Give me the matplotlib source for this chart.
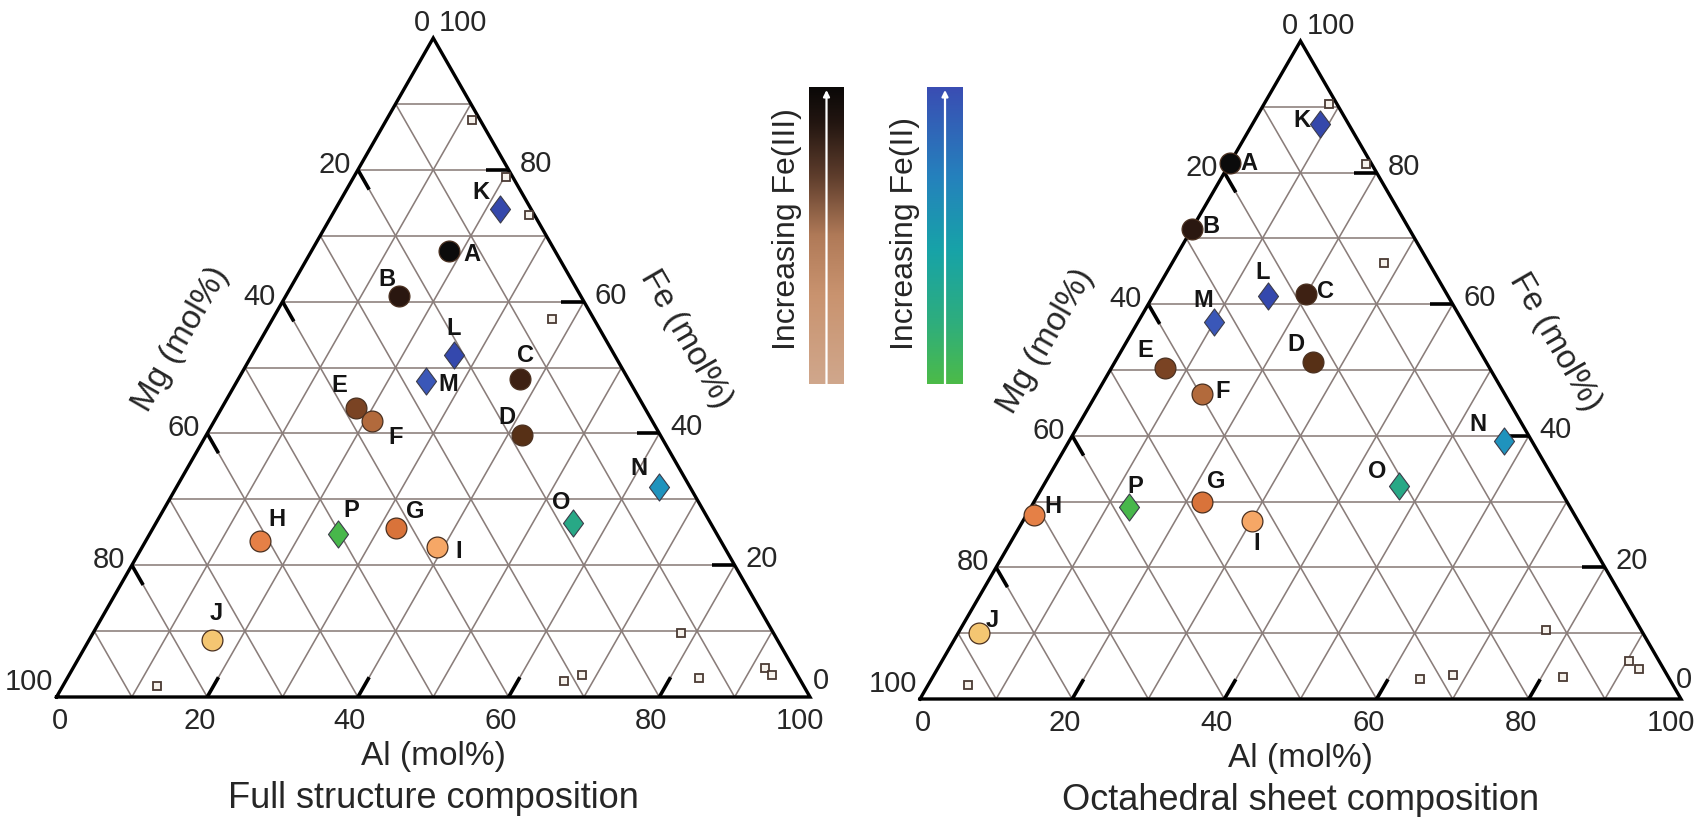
import numpy as np
import matplotlib
matplotlib.use("Agg")
import matplotlib.pyplot as plt
from matplotlib.colors import LinearSegmentedColormap
from matplotlib.path import Path

plt.rcParams['font.family'] = ['Liberation Sans', 'DejaVu Sans']

# ---------------- data (mol%) ----------------
labels = ['A', 'B', 'C', 'D', 'E', 'F', 'G', 'H', 'I', 'J', 'K', 'L', 'M', 'N', 'O', 'P']
# Full structure composition
full_al = [18.2, 15.0, 37.4, 41.9, 17.8, 20.9, 32.2, 15.1, 39.1, 16.3, 21.9, 26.8, 25.1, 64.1, 55.4, 25.0]
full_fe = [67.7, 60.9, 48.3, 39.8, 43.8, 41.9, 25.7, 23.7, 22.7, 8.7, 74.0, 51.9, 47.9, 31.8, 26.4, 24.8]
# Octahedral sheet composition
oct_al = [0.0, 0.0, 19.9, 26.0, 7.0, 13.9, 22.0, 1.0, 30.1, 2.8, 8.9, 15.1, 10.0, 57.2, 46.7, 12.9]
oct_fe = [81.4, 71.5, 61.6, 51.2, 50.3, 46.4, 30.0, 28.0, 27.0, 10.0, 87.4, 61.2, 57.3, 39.2, 32.4, 29.2]

# reference minerals (small open squares)
full_ref_al = [11.4, 20.2, 26.2, 37.1, 78.0, 12.5, 66.1, 68.1, 83.8, 91.8, 93.3]
full_ref_fe = [87.6, 78.9, 73.1, 57.3, 9.7, 1.6, 2.5, 3.4, 2.9, 4.4, 3.4]
oct_ref_al = [8.6, 17.9, 27.9, 77.0, 5.2, 64.2, 68.2, 82.8, 90.3, 92.2]
oct_ref_fe = [90.4, 81.3, 66.2, 10.5, 2.1, 3.0, 3.65, 3.4, 5.7, 4.5]

tick_values = [0, 20, 40, 60, 80, 100]
titles = ['Full structure composition', 'Octahedral sheet composition']

# ---------------- styles ----------------
point_colors = {
    'A': '#0b0b0b', 'B': '#2a1710', 'C': '#3e2113', 'D': '#573016', 'E': '#7a4323',
    'F': '#b26a3c', 'G': '#d9733a', 'H': '#e58046', 'I': '#f6a766', 'J': '#f4c672',
    'K': '#3548ab', 'L': '#3448ad', 'M': '#3a57b8', 'N': '#1f93bd', 'O': '#28a886',
    'P': '#48b74b',
}
diamond_set = set('KLMNOP')

# label offsets (pixels) per panel
label_off = [
    {'A': (23, -4), 'B': (-12, 16), 'C': (5, 23), 'D': (-15, 17), 'E': (-16, 23),
     'F': (24, -17), 'G': (19, 16), 'H': (17, 21), 'I': (22, -4), 'J': (4, 26),
     'K': (-19, 17), 'L': (0, 26), 'M': (22, -3), 'N': (-20, 19), 'O': (-12, 21),
     'P': (13, 23)},
    {'A': (19, 0), 'B': (19, 2), 'C': (20, 2), 'D': (-17, 18), 'E': (-19, 18),
     'F': (20, 2), 'G': (15, 20), 'H': (19, 8), 'I': (5, -22), 'J': (13, 13),
     'K': (-18, 3), 'L': (-5, 24), 'M': (-11, 21), 'N': (-27, 17), 'O': (-21, 14),
     'P': (6, 20)},
]
# offset of the Fe "0" label at the lower-right corner, per panel
fe0_off = [(3, 16), (-5, 19)]

grid_col = '#8a7d7a'
txt_col = '#262626'
W, H = 1696, 817
fig = plt.figure(figsize=(W / 100, H / 100), dpi=100)

# triangle frames in pixels (BL x, BR x, bottom y from top, apex y from top)
frames = [(56.5, 810.0, 697.0, 38.0), (920.0, 1681.0, 699.0, 41.0)]

S3 = np.sqrt(3) / 2


def tern(al, fe):
    al = np.asarray(al, float)
    fe = np.asarray(fe, float)
    return al + fe / 2.0, fe * S3


diamond = Path([(0, 1), (0.74, 0), (0, -1), (-0.74, 0), (0, 1)],
               [Path.MOVETO, Path.LINETO, Path.LINETO, Path.LINETO, Path.CLOSEPOLY])

datasets = [(full_al, full_fe, full_ref_al, full_ref_fe),
            (oct_al, oct_fe, oct_ref_al, oct_ref_fe)]

tick_font = dict(fontsize=21, color=txt_col)

for k, (x0, x1, yb, ya) in enumerate(frames):
    ax = fig.add_axes([x0 / W, (H - yb) / H, (x1 - x0) / W, (yb - ya) / H])
    ax.set_xlim(0, 100)
    ax.set_ylim(0, 100 * S3)
    ax.axis('off')

    # grid
    for v in range(10, 100, 10):
        for (a1, f1, a2, f2) in [(0, v, 100 - v, v),          # const Fe
                                 (v, 0, v, 100 - v),          # const Al
                                 (100 - v, 0, 0, 100 - v)]:   # const Mg
            xs, ys = tern([a1, a2], [f1, f2])
            ax.plot(xs, ys, color=grid_col, lw=1.15, zorder=1, solid_capstyle='butt')
    # frame
    xs, ys = tern([0, 100, 0, 0], [0, 0, 100, 0])
    ax.plot(xs, ys, color='black', lw=2.4, zorder=3, clip_on=False, solid_joinstyle='miter')

    # ticks (inward, thick)
    L = 3.0
    for v in [20, 40, 60, 80]:
        for (a1, f1, a2, f2) in [(100 - v, v, 100 - v - L, v),     # Fe on right edge
                                 (0, 100 - v, L, 100 - v - L),     # Mg on left edge
                                 (v, 0, v, L)]:                    # Al on bottom
            xs, ys = tern([a1, a2], [f1, f2])
            ax.plot(xs, ys, color='black', lw=2.6, zorder=3, solid_capstyle='butt')

    # tick labels
    for v in tick_values:
        # Mg (left edge): Mg=v -> Al=0, Fe=100-v
        x, y = tern(0, 100 - v)
        off = (-7, 5)
        if v == 0:
            off = (-3, 15)
        elif v == 100:
            off = (-3, 15)
        ax.annotate(str(v), (x, y), xytext=off, textcoords='offset pixels',
                    ha='right', va='center', annotation_clip=False, **tick_font)
        # Fe (right edge)
        x, y = tern(100 - v, v)
        off = (11, 6)
        if v == 100:
            off = (6, 15)
        elif v == 0:
            off = fe0_off[k]
        ax.annotate(str(v), (x, y), xytext=off, textcoords='offset pixels',
                    ha='left', va='center', annotation_clip=False, **tick_font)
        # Al (bottom)
        x, y = tern(v, 0)
        off = (-8, -24)
        if v == 0:
            off = (3, -24)
        elif v == 100:
            off = (-10, -24)
        ax.annotate(str(v), (x, y), xytext=off, textcoords='offset pixels',
                    ha='center', va='center', annotation_clip=False, **tick_font)

    # axis titles
    x, y = tern(50, 0)
    ax.annotate('Al (mol%)', (x, y), xytext=(0, -59), textcoords='offset pixels',
                ha='center', va='center', fontsize=24, color=txt_col, annotation_clip=False)
    ax.annotate(titles[k], (x, y), xytext=(0, -102), textcoords='offset pixels',
                ha='center', va='center', fontsize=26, color=txt_col, annotation_clip=False)
    d = 70
    x, y = tern(0, 49)
    ax.annotate('Mg (mol%)', (x, y), xytext=(-d * 0.866, d * 0.5), textcoords='offset pixels',
                ha='center', va='center', rotation=60, fontsize=24, color=txt_col,
                annotation_clip=False, rotation_mode='anchor')
    x, y = tern(51, 49)
    ax.annotate('Fe (mol%)', (x, y), xytext=(d * 0.866, d * 0.5), textcoords='offset pixels',
                ha='center', va='center', rotation=-60, fontsize=24, color=txt_col,
                annotation_clip=False, rotation_mode='anchor')

    al, fe, ral, rfe = datasets[k]
    # reference minerals
    xs, ys = tern(ral, rfe)
    ax.plot(xs, ys, ls='none', marker='s', ms=5.2, mfc='#f6f2ec', mec='#4a3a33', mew=1.3,
            zorder=4, clip_on=False)
    # samples
    for i, lab in enumerate(labels):
        x, y = tern(al[i], fe[i])
        if lab in diamond_set:
            ax.plot(x, y, ls='none', marker=diamond, ms=19.5, mfc=point_colors[lab],
                    mec='#3c3c4a', mew=0.8, zorder=5, clip_on=False)
        else:
            ax.plot(x, y, ls='none', marker='o', ms=15, mfc=point_colors[lab],
                    mec='#4a3020', mew=0.9, zorder=5, clip_on=False)
        dx, dy = label_off[k][lab]
        ax.annotate(lab, (x, y), xytext=(dx, dy), textcoords='offset pixels',
                    ha='center', va='center', fontsize=17, fontweight='bold',
                    color='#141414', zorder=6, annotation_clip=False)

# ---------------- colour bars ----------------
cmap_fe3 = LinearSegmentedColormap.from_list(
    'fe3', [(0.0, '#d0a78c'), (0.3, '#c9936f'), (0.5, '#b07a58'),
            (0.7, '#5e3d2c'), (0.88, '#231611'), (1.0, '#0a0807')])
cmap_fe2 = LinearSegmentedColormap.from_list(
    'fe2', [(0.0, '#4cbb48'), (0.2, '#2fae7c'), (0.45, '#17a3a8'),
            (0.7, '#2581bd'), (1.0, '#3a4db3')])

bars = [(809, 844, cmap_fe3, 'Increasing Fe(III)', 787),
        (927, 963, cmap_fe2, 'Increasing Fe(II)', 905)]
grad = np.linspace(0, 1, 256).reshape(-1, 1)
for (bx0, bx1, cm, txt, tx) in bars:
    cax = fig.add_axes([bx0 / W, (H - 384) / H, (bx1 - bx0) / W, (384 - 87) / H])
    cax.imshow(grad, aspect='auto', cmap=cm, origin='lower', extent=(0, 1, 0, 1))
    cax.set_xlim(0, 1)
    cax.set_ylim(0, 1)
    cax.axis('off')
    cax.annotate('', xy=(0.5, 0.99), xytext=(0.5, 0.0),
                 arrowprops=dict(arrowstyle='-|>', color='white', lw=1.6,
                                 mutation_scale=9, shrinkA=0, shrinkB=0))
    fig.text(tx / W, (H - 350) / H, txt, rotation=90, ha='center', va='bottom',
             fontsize=23, color=txt_col)

fig.savefig('out.png', dpi=100, facecolor='white')
